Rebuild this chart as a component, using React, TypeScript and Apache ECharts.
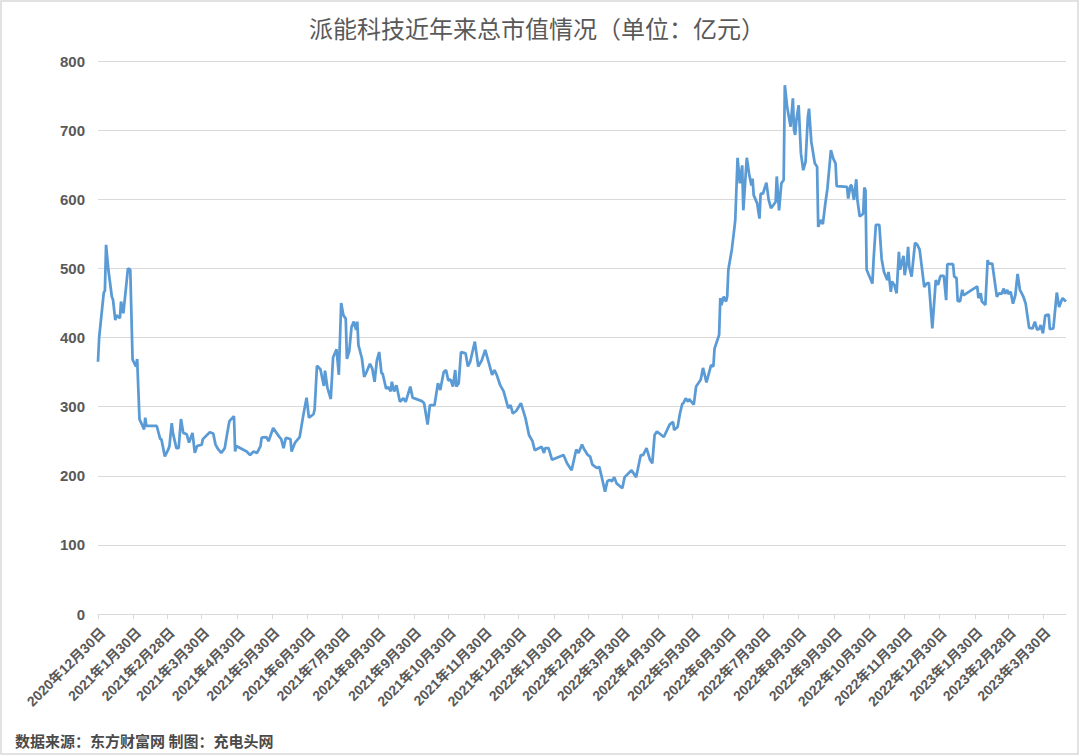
import React, { useEffect, useRef } from "react";
import * as echarts from "echarts";

const TITLE = "派能科技近年来总市值情况（单位：亿元）";
const SOURCE = "数据来源：东方财富网 制图：充电头网";
const Y_MIN = 0;
const Y_MAX = 800;
const Y_STEP = 100;

// [month-day, total market value (亿元)]
const cap2020: [string, number][] = [["12-30", 365], ["12-31", 400]];

const cap2021: [string, number][] = [
  ["01-04", 465], ["01-05", 468], ["01-06", 534], ["01-08", 498], ["01-11", 459], ["01-12", 455],
  ["01-14", 425], ["01-15", 432], ["01-18", 428], ["01-19", 452], ["01-21", 435], ["01-25", 500],
  ["01-27", 498], ["01-29", 368], ["02-01", 358], ["02-02", 369], ["02-03", 325], ["02-04", 282],
  ["02-08", 267], ["02-09", 284], ["02-10", 272], ["02-19", 272], ["02-22", 253], ["02-23", 253],
  ["02-26", 228], ["03-01", 238], ["03-02", 243], ["03-04", 276], ["03-05", 262], ["03-08", 240],
  ["03-10", 240], ["03-12", 282], ["03-14", 262], ["03-17", 260], ["03-19", 248], ["03-22", 262],
  ["03-24", 233], ["03-26", 243], ["03-30", 245], ["03-31", 253], ["04-06", 263], ["04-09", 261],
  ["04-11", 245], ["04-13", 239], ["04-16", 233], ["04-19", 240], ["04-21", 260], ["04-23", 279],
  ["04-27", 286], ["04-28", 235], ["04-29", 243], ["05-08", 235], ["05-11", 230], ["05-14", 235],
  ["05-17", 233], ["05-20", 243], ["05-21", 255], ["05-25", 256], ["05-27", 250], ["05-31", 269],
  ["06-05", 257], ["06-07", 253], ["06-09", 240], ["06-11", 255], ["06-15", 253], ["06-16", 235],
  ["06-19", 248], ["06-23", 256], ["06-26", 286], ["06-29", 313], ["07-01", 284], ["07-05", 289],
  ["07-06", 296], ["07-08", 359], ["07-11", 354], ["07-14", 330], ["07-15", 352], ["07-17", 328],
  ["07-20", 311], ["07-22", 371], ["07-25", 383], ["07-27", 346], ["07-29", 450], ["07-31", 432],
  ["08-02", 427], ["08-03", 369], ["08-05", 380], ["08-07", 415], ["08-09", 423], ["08-11", 411],
  ["08-12", 423], ["08-13", 389], ["08-16", 370], ["08-18", 343], ["08-20", 350], ["08-23", 362],
  ["08-25", 355], ["08-27", 336], ["08-29", 367], ["08-31", 379], ["09-02", 348], ["09-03", 348],
  ["09-06", 326], ["09-08", 328], ["09-10", 322], ["09-11", 336], ["09-13", 322], ["09-15", 331],
  ["09-18", 307], ["09-21", 312], ["09-23", 307], ["09-27", 329], ["09-29", 313], ["10-07", 308],
  ["10-09", 305], ["10-12", 274], ["10-14", 302], ["10-18", 302], ["10-21", 334], ["10-23", 324],
  ["10-26", 350], ["10-28", 353], ["10-30", 338], ["11-01", 339], ["11-03", 329], ["11-05", 353],
  ["11-06", 329], ["11-08", 334], ["11-10", 379], ["11-14", 377], ["11-16", 358], ["11-18", 365],
  ["11-22", 394], ["11-25", 358], ["11-28", 367], ["12-01", 382], ["12-03", 370], ["12-07", 346],
  ["12-09", 353], ["12-11", 346], ["12-14", 331], ["12-17", 322], ["12-21", 298], ["12-23", 302],
  ["12-25", 290], ["12-28", 294],
];

const cap2022: [string, number][] = [
  ["01-01", 305], ["01-05", 283], ["01-08", 259], ["01-11", 250], ["01-13", 237], ["01-19", 242],
  ["01-21", 233], ["01-22", 240], ["01-25", 240], ["01-28", 223], ["02-07", 230], ["02-10", 218],
  ["02-14", 208], ["02-18", 238], ["02-20", 233], ["02-23", 245], ["02-25", 238], ["02-28", 230],
  ["03-02", 228], ["03-04", 216], ["03-08", 211], ["03-10", 213], ["03-12", 199], ["03-15", 177],
  ["03-17", 192], ["03-19", 194], ["03-21", 192], ["03-23", 198], ["03-25", 189], ["03-30", 182],
  ["04-01", 198], ["04-07", 208], ["04-11", 198], ["04-13", 214], ["04-15", 230], ["04-17", 230],
  ["04-20", 240], ["04-23", 223], ["04-25", 218], ["04-27", 259], ["04-29", 264], ["05-05", 256],
  ["05-10", 274], ["05-13", 278], ["05-14", 266], ["05-17", 271], ["05-19", 290], ["05-21", 304],
  ["05-22", 305], ["05-24", 312], ["05-26", 307], ["05-27", 311], ["05-31", 303], ["06-02", 329],
  ["06-06", 339], ["06-08", 356], ["06-11", 335], ["06-15", 360], ["06-17", 358], ["06-18", 384],
  ["06-22", 404], ["06-23", 457], ["06-24", 447], ["06-26", 459], ["06-28", 452], ["06-29", 459],
  ["06-30", 498], ["07-03", 527], ["07-05", 555], ["07-06", 570], ["07-08", 660], ["07-10", 623],
  ["07-12", 649], ["07-13", 584], ["07-16", 660], ["07-18", 637], ["07-20", 620], ["07-21", 630],
  ["07-22", 606], ["07-25", 594], ["07-27", 572], ["07-28", 608], ["07-30", 608], ["08-02", 624],
  ["08-04", 599], ["08-06", 587], ["08-10", 596], ["08-11", 633], ["08-13", 584], ["08-15", 623],
  ["08-17", 628], ["08-18", 765], ["08-20", 734], ["08-21", 724], ["08-23", 705], ["08-25", 746],
  ["08-26", 700], ["08-27", 693], ["08-28", 714], ["08-30", 736], ["09-01", 666], ["09-03", 642],
  ["09-05", 654], ["09-07", 719], ["09-08", 731], ["09-10", 683], ["09-13", 652], ["09-15", 647],
  ["09-16", 560], ["09-18", 570], ["09-20", 564], ["09-22", 592], ["09-24", 616], ["09-27", 671],
  ["09-29", 659], ["10-01", 652], ["10-02", 619], ["10-11", 618], ["10-12", 601], ["10-14", 620],
  ["10-15", 620], ["10-17", 599], ["10-19", 629], ["10-20", 599], ["10-22", 575], ["10-25", 579],
  ["10-26", 617], ["10-27", 613], ["10-28", 498], ["11-02", 478], ["11-03", 512], ["11-05", 563],
  ["11-08", 563], ["11-10", 514], ["11-12", 495], ["11-15", 483], ["11-16", 495], ["11-18", 466],
  ["11-19", 481], ["11-21", 476], ["11-23", 464], ["11-25", 524], ["11-26", 498], ["11-29", 518],
  ["11-30", 490], ["12-02", 510], ["12-03", 531], ["12-04", 502], ["12-06", 488], ["12-09", 537],
  ["12-11", 534], ["12-13", 527], ["12-15", 500], ["12-17", 473], ["12-19", 478], ["12-21", 479],
  ["12-24", 413], ["12-27", 483], ["12-29", 476], ["12-31", 489],
];

const cap2023: [string, number][] = [
  ["01-03", 489], ["01-05", 454], ["01-06", 506], ["01-11", 506], ["01-12", 488], ["01-14", 486],
  ["01-15", 453], ["01-17", 452], ["01-19", 469], ["01-20", 461], ["02-01", 474], ["02-02", 457],
  ["02-04", 464], ["02-05", 452], ["02-07", 449], ["02-08", 447], ["02-10", 512], ["02-11", 507],
  ["02-14", 507], ["02-18", 459], ["02-20", 464], ["02-22", 463], ["02-24", 471], ["02-25", 463],
  ["02-27", 469], ["02-28", 463], ["03-02", 466], ["03-04", 449], ["03-06", 461], ["03-08", 492],
  ["03-10", 469], ["03-13", 459], ["03-15", 449], ["03-18", 414], ["03-21", 413], ["03-23", 423],
  ["03-25", 411], ["03-27", 413], ["03-28", 418], ["03-30", 406], ["04-01", 432], ["04-04", 433],
  ["04-05", 412], ["04-08", 413], ["04-11", 465], ["04-13", 444], ["04-16", 457], ["04-19", 452],
];

const YEARS: [number, [string, number][]][] = [
  [2020, cap2020],
  [2021, cap2021],
  [2022, cap2022],
  [2023, cap2023],
];

export default function App() {
  const ref = useRef<HTMLDivElement>(null);

  useEffect(() => {
    if (!ref.current) return;
    const chart = echarts.init(ref.current, null, { renderer: "svg" });
    const DAY = 86400000;
    const t0 = Date.UTC(2020, 11, 30);
    const t1 = Date.UTC(2023, 3, 19);
    const n = Math.round((t1 - t0) / DAY) + 1;
    const cats: string[] = [];
    const tickDay: boolean[] = [];
    for (let i = 0; i < n; i++) {
      const dt = new Date(t0 + i * DAY);
      const y = dt.getUTCFullYear();
      const m = dt.getUTCMonth() + 1;
      const d = dt.getUTCDate();
      cats.push(`${y}年${m}月${d}日`);
      tickDay.push(d === 30 || (m === 2 && d === 28));
    }
    const data = YEARS.flatMap(([yr, arr]) =>
      arr.map(([md, v]) => {
        const [m, d] = md.split("-").map(Number);
        return [Math.round((Date.UTC(yr, m - 1, d) - t0) / DAY), v];
      })
    );

    const grey = "#595959";
    chart.setOption({
      animation: false,
      backgroundColor: "#ffffff",
      grid: { left: 98, right: 14, top: 61, bottom: 142, containLabel: false },
      xAxis: {
        type: "category",
        data: cats,
        boundaryGap: false,
        axisLine: { lineStyle: { color: "#d9d9d9", width: 1 } },
        axisTick: {
          show: true,
          length: 5,
          interval: (i: number) => tickDay[i],
          lineStyle: { color: "#d9d9d9" },
        },
        axisLabel: {
          interval: (i: number) => tickDay[i],
          rotate: 45,
          margin: 11,
          verticalAlign: "top",
          color: grey,
          fontSize: 14,
          fontWeight: "bold",
          fontFamily: "Liberation Sans, Noto Sans CJK SC, sans-serif",
        },
        splitLine: { show: false },
      },
      yAxis: {
        type: "value",
        min: Y_MIN,
        max: Y_MAX,
        interval: Y_STEP,
        axisLine: { show: false },
        axisTick: { show: false },
        axisLabel: {
          color: grey,
          fontSize: 15,
          fontWeight: "bold",
          margin: 13,
          fontFamily: "Liberation Sans, sans-serif",
        },
        splitLine: { lineStyle: { color: "#d9d9d9", width: 1 } },
      },
      series: [
        {
          type: "line",
          data,
          showSymbol: false,
          symbol: "none",
          lineStyle: { color: "#5b9bd5", width: 2.75 },
          itemStyle: { color: "#5b9bd5" },
        },
      ],
      graphic: [
        {
          type: "rect",
          shape: { x: 1, y: 1, width: 1077, height: 753 },
          style: { fill: "none", stroke: "#d9d9d9", lineWidth: 1.5 },
          silent: true,
        },
        {
          type: "text",
          x: 537,
          y: 27,
          style: {
            text: TITLE,
            fill: grey,
            fontSize: 24,
            fontFamily: "Noto Sans CJK SC, sans-serif",
            textAlign: "center",
            textVerticalAlign: "middle",
          },
        },
        {
          type: "text",
          x: 15,
          y: 740,
          style: {
            text: SOURCE,
            fill: "#4a4a4a",
            fontSize: 15,
            fontWeight: "bold",
            fontFamily: "Noto Sans CJK SC, sans-serif",
            textAlign: "left",
            textVerticalAlign: "middle",
          },
        },
      ],
    });
    return () => chart.dispose();
  }, []);

  return (
    <div
      ref={ref}
      style={{ position: "fixed", left: 0, top: 0, width: 1080, height: 756, background: "#fff" }}
    />
  );
}
